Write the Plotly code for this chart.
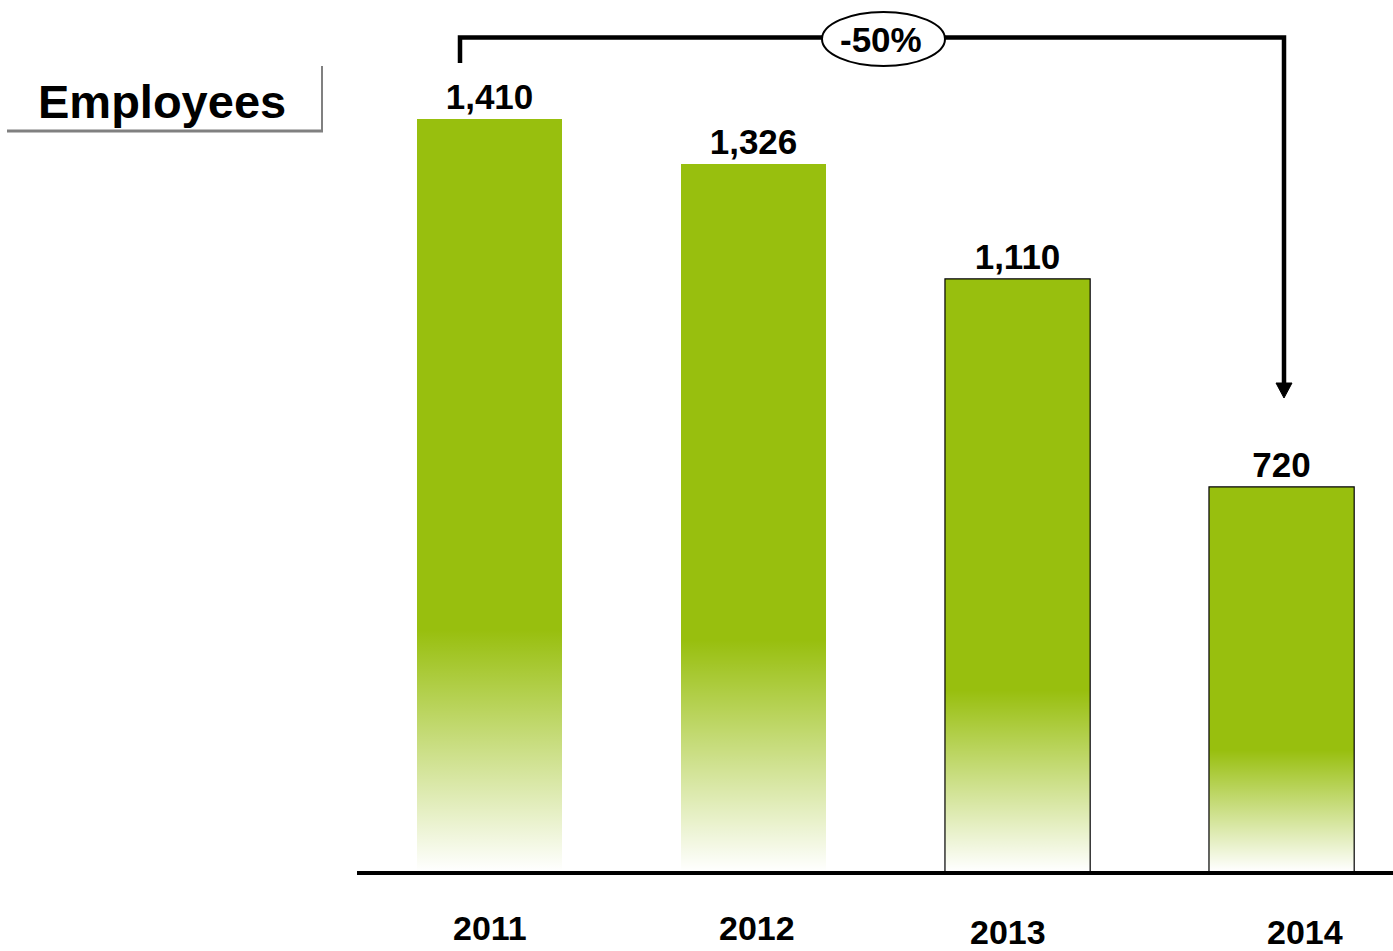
import plotly.graph_objects as go

# ---- data ----
years = ["2011", "2012", "2013", "2014"]
employees = [1410, 1326, 1110, 720]
change_label = "-50%"
title_text = "Employees"

# ---- styling ----
FONT = "Liberation Sans, Arial, sans-serif"
GREEN = "#98BF0E"
BAR_WIDTH = 0.55
outlined = [False, False, True, True]      # thin black edge on the later bars
fade_heights = [452, 433, 339, 227]        # height (in y units) of the white fade at each bar's foot
year_xshift = [0, 3, -10, 23]
year_ypx = [928, 928, 932, 932]

FIG_W, FIG_H = 1393, 951
M_L, M_R, M_T, M_B = 357, 0, 0, 80
PLOT_W = FIG_W - M_L - M_R
PLOT_H = FIG_H - M_T - M_B
Y_MAX = 1633
X_RANGE = [-0.502, 3.422]


def px_x(px):
    return (px - M_L) / PLOT_W


def px_y(py):
    return (M_T + PLOT_H - py) / PLOT_H


idx = list(range(len(years)))

fig = go.Figure()

fig.add_trace(go.Bar(
    x=idx,
    y=employees,
    width=BAR_WIDTH,
    marker=dict(color=GREEN, line=dict(width=0)),
    texttemplate="<b>%{y:,}</b>",
    textposition="outside",
    textfont=dict(family=FONT, size=35, color="black"),
    cliponaxis=False,
    showlegend=False,
    hoverinfo="skip",
))

# white fade at the foot of every bar
for i, (val, fade) in enumerate(zip(employees, fade_heights)):
    x0, x1 = i - BAR_WIDTH / 2, i + BAR_WIDTH / 2
    h = min(fade, val)
    fig.add_trace(go.Scatter(
        x=[x0, x0, x1, x1],
        y=[h, 0, 0, h],
        mode="none",
        fill="toself",
        fillgradient=dict(
            type="vertical",
            start=0,
            stop=h,
            colorscale=[[0, "rgba(255,255,255,1)"], [1, "rgba(255,255,255,0)"]],
        ),
        showlegend=False,
        hoverinfo="skip",
    ))

# outlines for the outlined bars (left, top, right edges)
for i, (val, edge) in enumerate(zip(employees, outlined)):
    if not edge:
        continue
    x0, x1 = i - BAR_WIDTH / 2, i + BAR_WIDTH / 2
    fig.add_trace(go.Scatter(
        x=[x0, x0, x1, x1],
        y=[0, val, val, 0],
        mode="lines",
        line=dict(color="black", width=1.2),
        showlegend=False,
        hoverinfo="skip",
    ))

shapes = []
annotations = []

# bracket from the first bar to the last with a downward arrow
bracket = (f"M {px_x(460)},{px_y(63)} L {px_x(460)},{px_y(37.5)} "
           f"L {px_x(1284)},{px_y(37.5)} L {px_x(1284)},{px_y(386)}")
shapes.append(dict(type="path", xref="paper", yref="paper", path=bracket,
                   line=dict(color="black", width=4.5), layer="above"))
arrow = (f"M {px_x(1276)},{px_y(383)} L {px_x(1292)},{px_y(383)} "
         f"L {px_x(1284)},{px_y(398)} Z")
shapes.append(dict(type="path", xref="paper", yref="paper", path=arrow,
                   fillcolor="black", line=dict(color="black", width=1), layer="above"))
shapes.append(dict(type="circle", xref="paper", yref="paper",
                   x0=px_x(822), x1=px_x(945), y0=px_y(12), y1=px_y(66),
                   fillcolor="white", line=dict(color="black", width=2), layer="above"))
annotations.append(dict(xref="paper", yref="paper", x=px_x(881), y=px_y(39),
                        text=f"<b>{change_label}</b>", showarrow=False,
                        font=dict(family=FONT, size=35, color="black"),
                        xanchor="center", yanchor="middle"))

# title block with grey corner rule
annotations.append(dict(xref="paper", yref="paper", x=px_x(162), y=px_y(102),
                        text=f"<b>{title_text}</b>", showarrow=False,
                        font=dict(family=FONT, size=47, color="black"),
                        xanchor="center", yanchor="middle"))
shapes.append(dict(type="line", xref="paper", yref="paper",
                   x0=px_x(7), x1=px_x(323), y0=px_y(131), y1=px_y(131),
                   line=dict(color="#808080", width=3)))
shapes.append(dict(type="line", xref="paper", yref="paper",
                   x0=px_x(322), x1=px_x(322), y0=px_y(66), y1=px_y(131),
                   line=dict(color="#808080", width=2)))

# year labels under the axis
for i, (yr, dx, ypx) in enumerate(zip(years, year_xshift, year_ypx)):
    annotations.append(dict(xref="x", yref="paper", x=i, y=px_y(ypx), xshift=dx,
                            text=f"<b>{yr}</b>", showarrow=False,
                            font=dict(family=FONT, size=34, color="black"),
                            xanchor="center", yanchor="middle"))

fig.update_layout(
    width=FIG_W,
    height=FIG_H,
    margin=dict(l=M_L, r=M_R, t=M_T, b=M_B, pad=0),
    paper_bgcolor="white",
    plot_bgcolor="white",
    xaxis=dict(range=X_RANGE, showgrid=False, zeroline=False, showticklabels=False,
               ticks="", showline=True, linecolor="black", linewidth=3.5, fixedrange=True),
    yaxis=dict(range=[0, Y_MAX], showgrid=False, zeroline=False, showticklabels=False,
               ticks="", showline=False, fixedrange=True),
    shapes=shapes,
    annotations=annotations,
    showlegend=False,
    bargap=0,
)

fig.write_html("out.html", config={"displayModeBar": False, "responsive": False})
